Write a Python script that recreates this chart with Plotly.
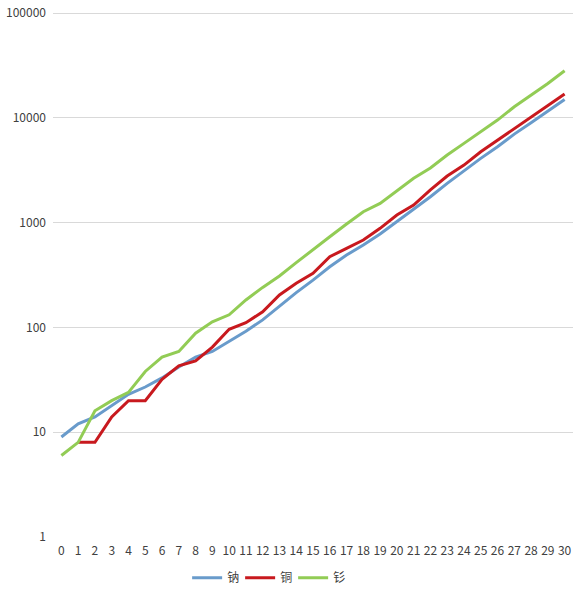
import plotly.graph_objects as go

X_VALUES = list(range(31))

SODIUM = [9, 12, 14, 18, 23, 27, 33, 42, 52, 59, 73, 92, 118, 160, 215,
          283, 379, 491, 611, 778, 1021, 1319, 1766, 2370, 3130, 4105,
          5300, 7000, 8980, 11700, 15000]
COPPER = [None, 8, 8, 14, 20, 20, 32, 43, 48, 65, 96, 111, 141, 204, 264,
          328, 473, 569, 682, 883, 1182, 1472, 2060, 2785, 3545, 4750,
          6140, 7940, 10260, 13250, 16870]
SAMARIUM = [6, 8, 16, 20, 24, 38, 52, 59, 88, 113, 132, 183, 241, 310, 415,
            556, 734, 970, 1270, 1528, 2017, 2650, 3320, 4416, 5710, 7380,
            9530, 12770, 16500, 21300, 28200]

Y_TICKS = [1, 10, 100, 1000, 10000, 100000]

FONT = "Noto Sans CJK SC, DejaVu Sans, sans-serif"

fig = go.Figure()

series = [
    ("钠", SODIUM, "#699bcb"),
    ("铜", COPPER, "#c8191e"),
    ("钐", SAMARIUM, "#92cc55"),
]
for name, values, color in series:
    # copper starts at x=1, where it joins the samarium line
    xs = X_VALUES
    ys = values
    if values[0] is None:
        xs = X_VALUES[1:]
        ys = values[1:]
    fig.add_trace(go.Scatter(
        x=xs,
        y=ys,
        name=name,
        mode="lines",
        line=dict(color=color, width=3),
    ))

fig.update_xaxes(
    range=[-0.5, 30.5],
    tickmode="array",
    tickvals=X_VALUES,
    ticktext=[str(v) for v in X_VALUES],
    showgrid=False,
    zeroline=False,
    showline=False,
    automargin=False,
    ticklabelstandoff=5,
    tickfont=dict(size=12, color="#404040"),
)
fig.update_yaxes(
    type="log",
    # a little headroom so plotly keeps the 100000 grid line
    range=[0, 5.02],
    tickmode="array",
    tickvals=Y_TICKS,
    ticktext=[str(v) for v in Y_TICKS],
    showgrid=True,
    gridcolor="#d9d9d9",
    gridwidth=1,
    zeroline=False,
    showline=False,
    automargin=False,
    ticks="",
    ticklabelstandoff=6,
    ticklabeloverflow="allow",
    tickfont=dict(size=12, color="#404040"),
)

fig.update_layout(
    width=586,
    height=598,
    margin=dict(l=53, r=13, t=11, b=61),
    paper_bgcolor="white",
    plot_bgcolor="white",
    font=dict(family=FONT, size=12, color="#404040"),
    showlegend=True,
    legend=dict(
        orientation="h",
        xref="container",
        yref="container",
        x=0.455,
        xanchor="center",
        y=0.034,
        yanchor="middle",
        font=dict(size=12, color="#404040"),
        entrywidth=8,
        entrywidthmode="pixels",
    ),
)

# drop the default body margin so the figure sits at the page corner
fig.write_html(
    "out.html",
    config={"displayModeBar": False},
    post_script="document.body.style.margin = '0';",
)
